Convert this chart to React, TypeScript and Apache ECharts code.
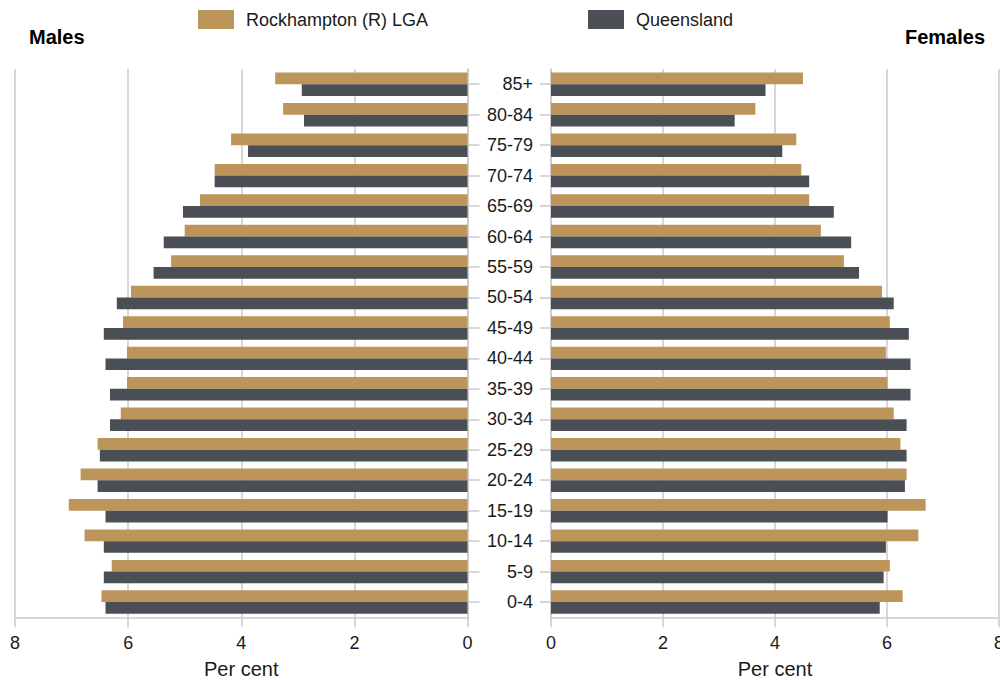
import React, { useEffect, useRef } from "react";
import * as echarts from "echarts";

const ageGroups = ["0-4", "5-9", "10-14", "15-19", "20-24", "25-29", "30-34", "35-39", "40-44", "45-49", "50-54", "55-59", "60-64", "65-69", "70-74", "75-79", "80-84", "85+"];

const maleRockhampton = [6.47, 6.29, 6.77, 7.05, 6.84, 6.54, 6.13, 6.02, 6.02, 6.09, 5.95, 5.24, 5.0, 4.73, 4.47, 4.18, 3.26, 3.4];
const maleQueensland = [6.4, 6.43, 6.43, 6.4, 6.54, 6.5, 6.32, 6.32, 6.4, 6.43, 6.2, 5.55, 5.37, 5.03, 4.47, 3.88, 2.89, 2.93];
const femaleRockhampton = [6.28, 6.05, 6.56, 6.69, 6.35, 6.24, 6.12, 6.01, 5.98, 6.05, 5.91, 5.23, 4.82, 4.61, 4.47, 4.38, 3.65, 4.5];
const femaleQueensland = [5.87, 5.94, 5.98, 6.01, 6.32, 6.35, 6.35, 6.42, 6.42, 6.39, 6.12, 5.5, 5.36, 5.05, 4.61, 4.13, 3.28, 3.83];

const xTicks = [0, 2, 4, 6, 8];

const seriesNames = ["Rockhampton (R) LGA", "Queensland"];
const GOLD = "#bd955b";
const DARK = "#4a4e55";
const GRID = "#cacaca";
const FONT = "'Liberation Sans', Arial, sans-serif";

export default function App() {
  const ref = useRef<HTMLDivElement>(null);
  useEffect(() => {
    if (!ref.current) return;
    const chart = echarts.init(ref.current, null, { renderer: "svg" });
    const xAxisCommon = (inverse: boolean, gridIndex: number) => ({
      type: "value",
      gridIndex,
      min: xTicks[0],
      max: xTicks[xTicks.length - 1],
      interval: 2,
      inverse,
      name: "Per cent",
      nameLocation: "middle",
      nameGap: 42,
      nameTextStyle: { fontSize: 20, color: "#1a1a1a", fontFamily: FONT },
      axisLine: { show: true, lineStyle: { color: GRID, width: 1.5 } },
      axisTick: { show: true, length: 10, lineStyle: { color: GRID, width: 1.5 } },
      axisLabel: { fontSize: 18, color: "#1a1a1a", fontFamily: FONT, margin: 17, showMaxLabel: true, showMinLabel: true },
      splitLine: { show: true, lineStyle: { color: GRID, width: 1.5 } },
    });
    const yAxisCommon = (gridIndex: number, position: string, showLabel: boolean, tickLen: number) => ({
      type: "category",
      gridIndex,
      data: ageGroups,
      position,
      axisLine: { show: true, lineStyle: { color: GRID, width: 1.5 } },
      axisTick: { show: true, length: tickLen, alignWithLabel: true, lineStyle: { color: GRID, width: 1.5 } },
      axisLabel: { show: showLabel, fontSize: 18, color: "#1a1a1a", fontFamily: FONT, margin: 18, align: "right" },
      splitLine: { show: false },
    });
    const barCommon = {
      type: "bar",
      barGap: "0%",
      barCategoryGap: "23%",
    };
    const legendCommon = {
      top: 10,
      padding: 0,
      itemWidth: 36,
      itemHeight: 19,
      icon: "rect",
      textStyle: { fontSize: 18, color: "#1a1a1a", fontFamily: FONT, padding: [4, 0, 0, 7] },
      selectedMode: false,
    };
    chart.setOption({
      animation: false,
      textStyle: { fontFamily: FONT },
      legend: [
        { ...legendCommon, data: [seriesNames[0]], left: 198 },
        { ...legendCommon, data: [seriesNames[1]], left: 588 },
      ],
      graphic: [
        {
          type: "text",
          left: 29,
          top: 27,
          style: { text: "Males", fill: "#000", font: `bold 20px ${FONT}` },
        },
        {
          type: "text",
          right: 15,
          top: 27,
          style: { text: "Females", fill: "#000", font: `bold 20px ${FONT}` },
        },
      ],
      grid: [
        { left: 15, right: 532.5, top: 69, bottom: 63.7, containLabel: false, outerBoundsMode: "none" },
        { left: 551, right: 1, top: 69, bottom: 63.7, containLabel: false, outerBoundsMode: "none" },
      ],
      xAxis: [xAxisCommon(true, 0), xAxisCommon(false, 1)],
      yAxis: [yAxisCommon(0, "right", false, 12), yAxisCommon(1, "left", true, 11)],
      series: [
        { ...barCommon, name: seriesNames[0], xAxisIndex: 0, yAxisIndex: 0, data: maleRockhampton, itemStyle: { color: GOLD } },
        { ...barCommon, name: seriesNames[1], xAxisIndex: 0, yAxisIndex: 0, data: maleQueensland, itemStyle: { color: DARK } },
        { ...barCommon, name: seriesNames[0], xAxisIndex: 1, yAxisIndex: 1, data: femaleRockhampton, itemStyle: { color: GOLD } },
        { ...barCommon, name: seriesNames[1], xAxisIndex: 1, yAxisIndex: 1, data: femaleQueensland, itemStyle: { color: DARK } },
      ],
    });
    return () => chart.dispose();
  }, []);
  return <div ref={ref} style={{ position: "absolute", left: 0, top: 0, width: 1000, height: 681 }} />;
}
